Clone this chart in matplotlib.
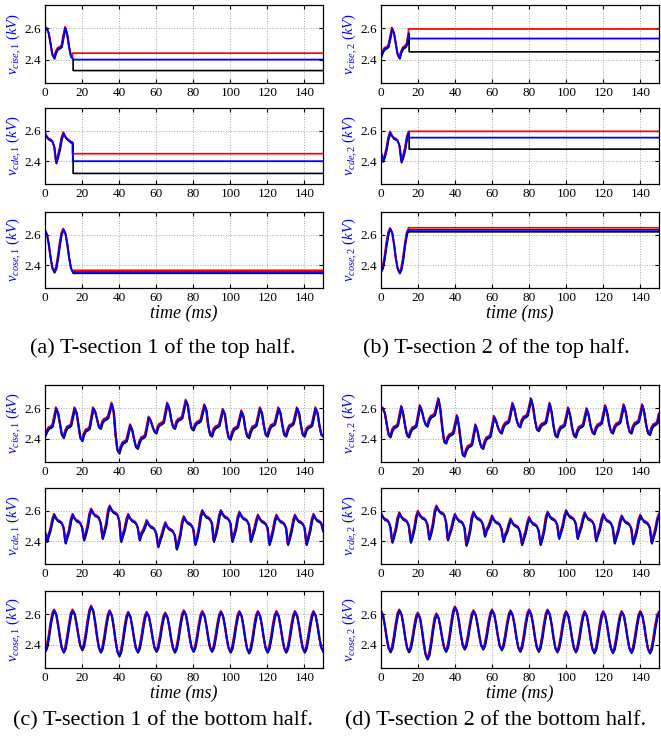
import numpy as np
import matplotlib
matplotlib.use('Agg')
import matplotlib.pyplot as plt
import matplotlib.transforms as mtransforms

plt.rcParams['font.family'] = ['Liberation Serif', 'DejaVu Serif']
plt.rcParams['mathtext.fontset'] = 'custom'
plt.rcParams['mathtext.rm'] = 'Liberation Serif'
plt.rcParams['mathtext.it'] = 'Liberation Serif:italic'

# sample times (ms)
t_full = np.arange(0, 151)   # bottom half, 0..150 ms
t_start = np.arange(0, 16)   # top half, first 15 ms before the lines settle

# ---- top half: first 15 ms (all three traces overlap), then settled levels ----
top_cise1 = [2.59, 2.60, 2.57, 2.50, 2.43, 2.41, 2.45, 2.47, 2.475, 2.485, 2.55, 2.605, 2.56, 2.48, 2.42, 2.41]
top_cde1 = [2.585, 2.56, 2.545, 2.54, 2.53, 2.495, 2.39, 2.43, 2.48, 2.55, 2.585, 2.56, 2.545, 2.535, 2.525, 2.52]
top_cose1 = [2.63, 2.605, 2.54, 2.45, 2.38, 2.355, 2.38, 2.45, 2.54, 2.61, 2.635, 2.61, 2.54, 2.45, 2.38, 2.355]
top_cise2 = [2.42, 2.45, 2.47, 2.475, 2.485, 2.54, 2.60, 2.57, 2.50, 2.43, 2.41, 2.45, 2.475, 2.48, 2.50, 2.57]
top_cde2 = [2.46, 2.40, 2.43, 2.48, 2.55, 2.59, 2.565, 2.55, 2.545, 2.535, 2.50, 2.395, 2.43, 2.48, 2.555, 2.59]
top_cose2 = [2.36, 2.385, 2.45, 2.54, 2.61, 2.64, 2.615, 2.54, 2.445, 2.375, 2.35, 2.375, 2.445, 2.54, 2.61, 2.635]

# settled levels after 15 ms: (red, blue, black)
lvl_cise1 = [2.435, 2.40, 2.335]
lvl_cde1 = [2.443, 2.40, 2.325]
lvl_cose1 = [2.36, 2.355, 2.352]
lvl_cise2 = [2.59, 2.535, 2.455]
lvl_cde2 = [2.59, 2.555, 2.485]
lvl_cose2 = [2.64, 2.632, 2.625]

# ---- bottom half: full 150 ms ----
bot_cise1 = [
    2.42, 2.45, 2.47, 2.475, 2.485, 2.54, 2.60, 2.57, 2.50, 2.43,
    2.41, 2.45, 2.475, 2.48, 2.49, 2.545, 2.60, 2.57, 2.49, 2.41,
    2.39, 2.43, 2.455, 2.46, 2.47, 2.535, 2.60, 2.58, 2.53, 2.48,
    2.47, 2.51, 2.525, 2.53, 2.54, 2.585, 2.63, 2.58, 2.43, 2.33,
    2.31, 2.35, 2.375, 2.38, 2.39, 2.44, 2.49, 2.46, 2.40, 2.35,
    2.34, 2.38, 2.405, 2.41, 2.42, 2.48, 2.54, 2.52, 2.48, 2.45,
    2.44, 2.48, 2.495, 2.50, 2.51, 2.57, 2.63, 2.60, 2.53, 2.48,
    2.47, 2.51, 2.525, 2.53, 2.54, 2.595, 2.65, 2.62, 2.53, 2.47,
    2.46, 2.49, 2.505, 2.51, 2.52, 2.57, 2.62, 2.59, 2.49, 2.43,
    2.42, 2.46, 2.475, 2.48, 2.49, 2.54, 2.59, 2.56, 2.47, 2.41,
    2.40, 2.44, 2.465, 2.47, 2.48, 2.53, 2.58, 2.55, 2.47, 2.42,
    2.41, 2.45, 2.475, 2.48, 2.49, 2.545, 2.60, 2.57, 2.49, 2.43,
    2.42, 2.46, 2.485, 2.49, 2.50, 2.55, 2.60, 2.57, 2.49, 2.43,
    2.42, 2.46, 2.485, 2.49, 2.50, 2.55, 2.60, 2.57, 2.49, 2.43,
    2.42, 2.46, 2.475, 2.48, 2.49, 2.545, 2.60, 2.57, 2.49, 2.43,
    2.42]

bot_cde1 = [
    2.46,
    2.40, 2.44, 2.48, 2.54, 2.575, 2.55, 2.535, 2.53, 2.52, 2.49,
    2.39, 2.43, 2.47, 2.54, 2.575, 2.55, 2.535, 2.53, 2.52, 2.49,
    2.41, 2.45, 2.50, 2.575, 2.61, 2.585, 2.57, 2.565, 2.555, 2.52,
    2.42, 2.46, 2.51, 2.595, 2.63, 2.605, 2.59, 2.585, 2.575, 2.535,
    2.40, 2.44, 2.48, 2.54, 2.575, 2.55, 2.535, 2.53, 2.52, 2.49,
    2.41, 2.45, 2.47, 2.50, 2.535, 2.51, 2.495, 2.49, 2.48, 2.45,
    2.365, 2.405, 2.44, 2.485, 2.52, 2.495, 2.48, 2.475, 2.465, 2.44,
    2.35, 2.39, 2.445, 2.525, 2.56, 2.535, 2.52, 2.515, 2.505, 2.48,
    2.38, 2.42, 2.48, 2.565, 2.60, 2.575, 2.56, 2.555, 2.545, 2.52,
    2.40, 2.44, 2.49, 2.565, 2.60, 2.575, 2.56, 2.555, 2.545, 2.52,
    2.40, 2.44, 2.485, 2.555, 2.59, 2.565, 2.55, 2.545, 2.535, 2.51,
    2.40, 2.44, 2.48, 2.535, 2.57, 2.545, 2.53, 2.525, 2.515, 2.49,
    2.38, 2.42, 2.47, 2.535, 2.57, 2.545, 2.53, 2.525, 2.515, 2.49,
    2.38, 2.42, 2.47, 2.535, 2.57, 2.545, 2.53, 2.525, 2.515, 2.49,
    2.38, 2.42, 2.47, 2.54, 2.575, 2.55, 2.535, 2.53, 2.52, 2.47]

bot_cose1 = [
    2.36, 2.385, 2.45, 2.535, 2.60, 2.625, 2.60, 2.53, 2.45, 2.38,
    2.355, 2.38, 2.45, 2.53, 2.60, 2.625, 2.60, 2.535, 2.46, 2.395,
    2.37, 2.397, 2.467, 2.553, 2.623, 2.65, 2.622, 2.548, 2.457, 2.383,
    2.355, 2.38, 2.446, 2.529, 2.595, 2.62, 2.592, 2.52, 2.43, 2.358,
    2.33, 2.357, 2.427, 2.513, 2.583, 2.61, 2.586, 2.522, 2.443, 2.379,
    2.355, 2.379, 2.443, 2.522, 2.586, 2.61, 2.586, 2.524, 2.446, 2.384,
    2.36, 2.383, 2.445, 2.52, 2.582, 2.605, 2.581, 2.519, 2.441, 2.379,
    2.355, 2.38, 2.446, 2.529, 2.595, 2.62, 2.595, 2.53, 2.45, 2.385,
    2.36, 2.384, 2.448, 2.527, 2.591, 2.615, 2.591, 2.527, 2.448, 2.384,
    2.36, 2.384, 2.448, 2.527, 2.591, 2.615, 2.59, 2.525, 2.445, 2.38,
    2.355, 2.38, 2.445, 2.525, 2.59, 2.615, 2.59, 2.524, 2.441, 2.375,
    2.35, 2.375, 2.441, 2.524, 2.59, 2.615, 2.59, 2.525, 2.445, 2.38,
    2.355, 2.38, 2.445, 2.525, 2.59, 2.615, 2.59, 2.525, 2.445, 2.38,
    2.355, 2.38, 2.445, 2.525, 2.59, 2.615, 2.59, 2.525, 2.445, 2.38,
    2.355, 2.38, 2.445, 2.525, 2.59, 2.615, 2.59, 2.525, 2.445, 2.385,
    2.36]

bot_cise2 = [
    2.59, 2.60, 2.57, 2.50, 2.43,
    2.415, 2.455, 2.475, 2.48, 2.49, 2.55, 2.61, 2.56, 2.483, 2.425,
    2.415, 2.45, 2.47, 2.475, 2.485, 2.55, 2.615, 2.583, 2.53, 2.495,
    2.485, 2.524, 2.545, 2.55, 2.56, 2.61, 2.66, 2.589, 2.475, 2.385,
    2.375, 2.408, 2.425, 2.43, 2.44, 2.495, 2.55, 2.485, 2.38, 2.30,
    2.29, 2.329, 2.35, 2.355, 2.365, 2.428, 2.49, 2.453, 2.393, 2.35,
    2.34, 2.382, 2.405, 2.41, 2.42, 2.483, 2.545, 2.519, 2.477, 2.45,
    2.44, 2.479, 2.50, 2.505, 2.515, 2.573, 2.63, 2.593, 2.53, 2.49,
    2.48, 2.519, 2.54, 2.545, 2.555, 2.608, 2.66, 2.609, 2.524, 2.465,
    2.455, 2.482, 2.495, 2.50, 2.51, 2.57, 2.63, 2.576, 2.487, 2.425,
    2.415, 2.454, 2.475, 2.48, 2.49, 2.545, 2.60, 2.554, 2.477, 2.425,
    2.415, 2.454, 2.475, 2.48, 2.49, 2.543, 2.595, 2.555, 2.487, 2.445,
    2.435, 2.471, 2.49, 2.495, 2.505, 2.56, 2.615, 2.571, 2.499, 2.45,
    2.44, 2.476, 2.495, 2.50, 2.51, 2.565, 2.62, 2.575, 2.501, 2.45,
    2.44, 2.479, 2.50, 2.505, 2.515, 2.568, 2.62, 2.573, 2.494, 2.44,
    2.43, 2.469, 2.49, 2.495, 2.505, 2.56]

bot_cde2 = [
    2.585, 2.56, 2.545, 2.54, 2.53, 2.495,
    2.395, 2.435, 2.48, 2.55, 2.585, 2.56, 2.545, 2.54, 2.53, 2.50,
    2.395, 2.435, 2.485, 2.56, 2.595, 2.57, 2.555, 2.55, 2.54, 2.51,
    2.415, 2.455, 2.51, 2.595, 2.63, 2.605, 2.59, 2.585, 2.575, 2.53,
    2.41, 2.45, 2.485, 2.54, 2.575, 2.55, 2.535, 2.53, 2.52, 2.49,
    2.375, 2.415, 2.47, 2.555, 2.59, 2.565, 2.55, 2.545, 2.535, 2.51,
    2.435, 2.475, 2.495, 2.53, 2.565, 2.54, 2.525, 2.52, 2.51, 2.48,
    2.40, 2.44, 2.465, 2.51, 2.545, 2.52, 2.505, 2.50, 2.49, 2.46,
    2.38, 2.42, 2.46, 2.52, 2.555, 2.53, 2.515, 2.51, 2.50, 2.47,
    2.38, 2.42, 2.475, 2.555, 2.59, 2.565, 2.55, 2.545, 2.535, 2.51,
    2.42, 2.46, 2.50, 2.565, 2.60, 2.575, 2.56, 2.555, 2.545, 2.52,
    2.42, 2.46, 2.495, 2.55, 2.585, 2.56, 2.545, 2.54, 2.53, 2.505,
    2.405, 2.445, 2.48, 2.54, 2.575, 2.55, 2.535, 2.53, 2.52, 2.49,
    2.39, 2.43, 2.47, 2.53, 2.565, 2.54, 2.525, 2.52, 2.51, 2.485,
    2.385, 2.425, 2.47, 2.535, 2.57, 2.545, 2.53, 2.525, 2.515, 2.49,
    2.39, 2.43, 2.475, 2.54, 2.575]

bot_cose2 = [
    2.62, 2.595, 2.529, 2.448, 2.382, 2.357, 2.382, 2.45, 2.533, 2.60,
    2.625, 2.60, 2.533, 2.45, 2.382, 2.357, 2.381, 2.443, 2.52, 2.581,
    2.605, 2.577, 2.503, 2.412, 2.338, 2.31, 2.338, 2.41, 2.50, 2.572,
    2.60, 2.577, 2.517, 2.443, 2.383, 2.36, 2.387, 2.458, 2.547, 2.618,
    2.645, 2.619, 2.552, 2.468, 2.401, 2.375, 2.398, 2.46, 2.535, 2.597,
    2.62, 2.597, 2.535, 2.46, 2.398, 2.375, 2.399, 2.461, 2.539, 2.601,
    2.625, 2.601, 2.537, 2.458, 2.394, 2.37, 2.394, 2.456, 2.534, 2.596,
    2.62, 2.595, 2.53, 2.45, 2.385, 2.36, 2.385, 2.451, 2.534, 2.60,
    2.625, 2.60, 2.534, 2.451, 2.385, 2.36, 2.385, 2.451, 2.534, 2.60,
    2.625, 2.60, 2.533, 2.45, 2.382, 2.357, 2.382, 2.446, 2.526, 2.59,
    2.615, 2.59, 2.526, 2.446, 2.382, 2.357, 2.382, 2.446, 2.526, 2.59,
    2.615, 2.59, 2.524, 2.441, 2.375, 2.35, 2.375, 2.441, 2.524, 2.59,
    2.615, 2.59, 2.524, 2.443, 2.377, 2.352, 2.377, 2.443, 2.524, 2.59,
    2.615, 2.59, 2.524, 2.443, 2.377, 2.352, 2.377, 2.443, 2.524, 2.59,
    2.615, 2.59, 2.524, 2.441, 2.375, 2.35, 2.375, 2.44, 2.52, 2.585,
    2.61]

ylabels_1 = [r'$v_{\mathit{cise,1}}\ \mathit{(kV)}$', r'$v_{\mathit{cde,1}}\ \mathit{(kV)}$', r'$v_{\mathit{cose,1}}\ \mathit{(kV)}$']
ylabels_2 = [r'$v_{\mathit{cise,2}}\ \mathit{(kV)}$', r'$v_{\mathit{cde,2}}\ \mathit{(kV)}$', r'$v_{\mathit{cose,2}}\ \mathit{(kV)}$']
captions = ['(a) T-section 1 of the top half.', '(b) T-section 2 of the top half.',
            '(c) T-section 1 of the bottom half.', '(d) T-section 2 of the bottom half.']

W, H = 661, 736
fig = plt.figure(figsize=(W / 100, H / 100), dpi=100)


def add_ax(left, top, right, bottom):
    # positions in pixels from the top-left corner
    return fig.add_axes([left / W, 1 - bottom / H, (right - left) / W, (bottom - top) / H])


def style(ax, label):
    ax.set_xlim(0, 150)
    ax.set_ylim(2.25, 2.75)
    ax.set_xticks(range(0, 141, 20))
    ax.set_yticks([2.4, 2.6])
    ax.grid(True, ls=':', color='#a8a8a8', lw=0.7)
    ax.tick_params(direction='in', length=3, width=0.8, top=True, right=True,
                   labelsize=9.5, pad=3)
    for s in ax.spines.values():
        s.set_linewidth(0.9)
    ax.set_ylabel(label, color='blue', fontsize=10.5)
    ax.yaxis.set_label_coords(-0.08, 0.5)


def traces(ax):
    # red sits a hair above, black a hair below the blue trace
    tr_red = mtransforms.offset_copy(ax.transData, fig=fig, x=-0.25, y=0.7, units='points')
    tr_blk = mtransforms.offset_copy(ax.transData, fig=fig, x=0.25, y=-0.6, units='points')
    return tr_red, tr_blk


def draw_top(ax, wave, levels):
    tr_red, tr_blk = traces(ax)
    x = list(t_start) + [15, 150]
    red, blue, black = levels
    ax.plot(x, wave + [black, black], color='k', lw=1.2, transform=tr_blk)
    ax.plot(x, wave + [red, red], color='r', lw=1.25, transform=tr_red)
    ax.plot(x, wave + [blue, blue], color='b', lw=1.3)


def draw_bottom(ax, wave):
    tr_red, tr_blk = traces(ax)
    ax.plot(t_full, wave, color='k', lw=1.5, transform=tr_blk)
    ax.plot(t_full, wave, color='r', lw=1.3, transform=tr_red)
    ax.plot(t_full, wave, color='b', lw=1.3)


cols = [(45, 323), (381, 659)]
rows_top = [(5, 83), (108, 184), (212, 288)]
rows_bot = [(385, 462), (488, 564), (591, 668)]

top_waves = [[top_cise1, top_cde1, top_cose1], [top_cise2, top_cde2, top_cose2]]
top_levels = [[lvl_cise1, lvl_cde1, lvl_cose1], [lvl_cise2, lvl_cde2, lvl_cose2]]
bot_waves = [[bot_cise1, bot_cde1, bot_cose1], [bot_cise2, bot_cde2, bot_cose2]]
labels = [ylabels_1, ylabels_2]

for c, (x0, x1) in enumerate(cols):
    for r, (y0, y1) in enumerate(rows_top):
        ax = add_ax(x0, y0, x1, y1)
        draw_top(ax, top_waves[c][r], top_levels[c][r])
        style(ax, labels[c][r])
    for r, (y0, y1) in enumerate(rows_bot):
        ax = add_ax(x0, y0, x1, y1)
        draw_bottom(ax, bot_waves[c][r])
        style(ax, labels[c][r])
    xc = (x0 + x1) / 2
    fig.text(xc / W, 1 - 313 / H, 'time (ms)', ha='center', va='center',
             style='italic', fontsize=13)
    fig.text(xc / W, 1 - 693 / H, 'time (ms)', ha='center', va='center',
             style='italic', fontsize=13)

cap_x = [163, 496]
fig.text(cap_x[0] / W, 1 - 348 / H, captions[0], ha='center', va='center', fontsize=16)
fig.text(cap_x[1] / W, 1 - 348 / H, captions[1], ha='center', va='center', fontsize=16)
fig.text(cap_x[0] / W, 1 - 721 / H, captions[2], ha='center', va='center', fontsize=16)
fig.text(cap_x[1] / W, 1 - 721 / H, captions[3], ha='center', va='center', fontsize=16)

fig.savefig('out.png', dpi=100)
